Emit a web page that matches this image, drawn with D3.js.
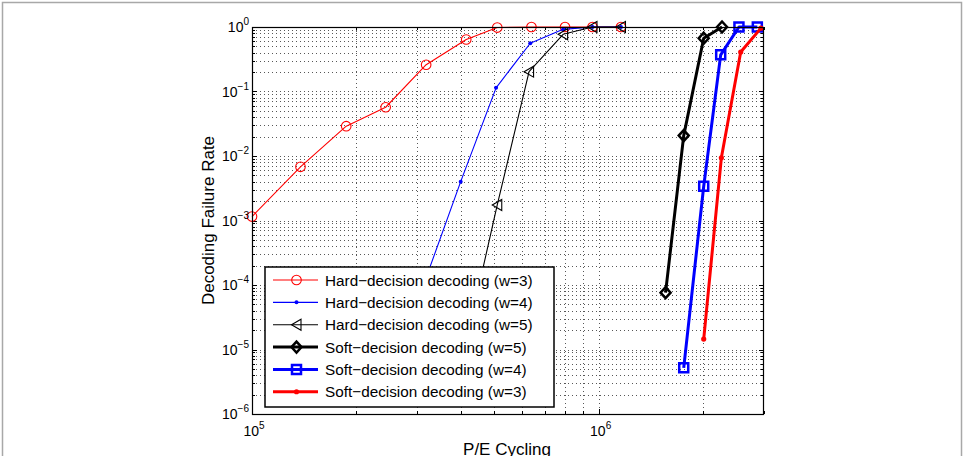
<!DOCTYPE html>
<html>
<head>
<meta charset="utf-8">
<script src="https://cdn.jsdelivr.net/npm/d3@7"></script>
<style>
body { margin: 0; background: #fff; }
svg { display: block; font-family: "Liberation Sans", Arial, Helvetica, sans-serif; }
</style>
</head>
<body>
<svg id="chart" width="964" height="456"></svg>
<script>
'use strict';

// values
var hard3X = [1.0e5, 1.38e5, 1.87e5, 2.43e5, 3.18e5, 4.15e5, 5.1e5, 6.4e5, 8.0e5, 9.6e5, 1.16e6];
var hard3Y = [1.15e-3, 6.8e-3, 0.029, 0.057, 0.26, 0.64, 0.98, 1, 1, 1, 1];
var hard4X = [3.18e5, 4.0e5, 5.06e5, 6.35e5, 7.9e5, 9.6e5, 1.16e6];
var hard4Y = [1.3e-4, 4.0e-3, 0.114, 0.56, 0.92, 1, 1];
var hard5X = [4.15e5, 5.1e5, 6.3e5, 7.9e5, 9.6e5, 1.16e6];
var hard5Y = [1.3e-5, 1.74e-3, 0.203, 0.77, 1, 1];
var soft5X = [1.56e6, 1.76e6, 2.01e6, 2.27e6];
var soft5Y = [7.6e-5, 0.0207, 0.67, 1];
var soft4X = [1.76e6, 2.01e6, 2.25e6, 2.54e6, 2.87e6];
var soft4Y = [5.2e-6, 3.4e-3, 0.37, 1, 1];
var soft3X = [2.01e6, 2.26e6, 2.57e6, 2.94e6];
var soft3Y = [1.45e-5, 9.4e-3, 0.41, 0.96];

var seriesNames = [
  'Hard\u2212decision decoding (w=3)',
  'Hard\u2212decision decoding (w=4)',
  'Hard\u2212decision decoding (w=5)',
  'Soft\u2212decision decoding (w=5)',
  'Soft\u2212decision decoding (w=4)',
  'Soft\u2212decision decoding (w=3)'
];
var xTickExps = [5, 6];
var yTickExps = [0, -1, -2, -3, -4, -5, -6];

var series = [
  { name: seriesNames[0], xs: hard3X, ys: hard3Y, color: '#ff0000', width: 1.1, marker: 'circle' },
  { name: seriesNames[1], xs: hard4X, ys: hard4Y, color: '#0000ff', width: 1.1, marker: 'dot' },
  { name: seriesNames[2], xs: hard5X, ys: hard5Y, color: '#000000', width: 1.1, marker: 'triangle' },
  { name: seriesNames[3], xs: soft5X, ys: soft5Y, color: '#000000', width: 3, marker: 'diamond' },
  { name: seriesNames[4], xs: soft4X, ys: soft4Y, color: '#0000ff', width: 3, marker: 'square' },
  { name: seriesNames[5], xs: soft3X, ys: soft3Y, color: '#ff0000', width: 3, marker: 'bigdot' }
];

var svg = d3.select('#chart');
var L = 252, R = 764, T = 27, B = 414;

var x = d3.scaleLog().domain([1e5, 3e6]).range([L, R]);
var y = d3.scaleLog().domain([1e-6, 1]).range([B, T]);

// figure border
svg.append('rect')
  .attr('x', 2.5).attr('y', 2.5).attr('width', 959).attr('height', 480)
  .attr('fill', 'none').attr('stroke', '#a8a8a8').attr('stroke-width', 1.5);

// grid (major + minor, dotted)
var grid = svg.append('g')
  .attr('stroke', '#444').attr('stroke-width', 0.9).attr('stroke-dasharray', '1,3');
grid.selectAll('line.gx')
  .data(x.ticks().filter(d => x(d) > L + 0.5 && x(d) < R - 0.5))
  .join('line')
    .attr('x1', d => Math.round(x(d)) + 0.5).attr('x2', d => Math.round(x(d)) + 0.5)
    .attr('y1', T).attr('y2', B);
grid.selectAll('line.gy')
  .data(y.ticks().filter(d => y(d) > T + 0.5 && y(d) < B - 0.5))
  .join('line')
    .attr('y1', d => Math.round(y(d)) + 0.5).attr('y2', d => Math.round(y(d)) + 0.5)
    .attr('x1', L).attr('x2', R);

// ticks inside on all four sides
function isMajor(v) {
  var e = Math.log10(v);
  return Math.abs(e - Math.round(e)) < 1e-6;
}
var ticks = svg.append('g').attr('stroke', '#000').attr('stroke-width', 1);
x.ticks().forEach(function(v) {
  var px = Math.round(x(v)) + 0.5, len = isMajor(v) ? 5 : 3;
  ticks.append('line').attr('x1', px).attr('x2', px).attr('y1', B).attr('y2', B - len);
  ticks.append('line').attr('x1', px).attr('x2', px).attr('y1', T).attr('y2', T + len);
});
y.ticks().forEach(function(v) {
  var py = Math.round(y(v)) + 0.5, len = isMajor(v) ? 5 : 3;
  ticks.append('line').attr('y1', py).attr('y2', py).attr('x1', L).attr('x2', L + len);
  ticks.append('line').attr('y1', py).attr('y2', py).attr('x1', R).attr('x2', R - len);
});

// marker shapes
function markerPath(type, cx, cy) {
  switch (type) {
    case 'triangle':
      return `M${cx - 5},${cy}L${cx + 4.5},${cy - 5.5}L${cx + 4.5},${cy + 5.5}Z`;
    case 'diamond':
      return `M${cx},${cy - 5.5}L${cx + 5},${cy}L${cx},${cy + 5.5}L${cx - 5},${cy}Z`;
    case 'square':
      return `M${cx - 4.5},${cy - 4.5}h9v9h-9Z`;
  }
  return '';
}
function drawMarker(g, s, cx, cy) {
  if (s.marker == 'circle') {
    g.append('circle').attr('cx', cx).attr('cy', cy).attr('r', 4.8)
      .attr('fill', 'none').attr('stroke', s.color).attr('stroke-width', 1.1);
  } else if (s.marker == 'dot' || s.marker == 'bigdot') {
    g.append('circle').attr('cx', cx).attr('cy', cy).attr('r', s.marker == 'dot' ? 2 : 2.6)
      .attr('fill', s.color).attr('stroke', 'none');
  } else {
    g.append('path').attr('d', markerPath(s.marker, cx, cy))
      .attr('fill', 'none').attr('stroke', s.color)
      .attr('stroke-width', s.marker == 'triangle' ? 1.1 : 2.5)
      .attr('stroke-linejoin', 'miter');
  }
}

// data lines and markers
var line = d3.line().x(d => x(d[0])).y(d => y(d[1]));
var plot = svg.append('g');
series.forEach(function(s) {
  var pts = s.xs.map((v, i) => [v, s.ys[i]]);
  plot.append('path').attr('d', line(pts))
    .attr('fill', 'none').attr('stroke', s.color).attr('stroke-width', s.width)
    .attr('stroke-linejoin', 'round');
  var gm = plot.append('g');
  pts.forEach(p => drawMarker(gm, s, x(p[0]), y(p[1])));
});

// axes box
svg.append('rect')
  .attr('x', L + 0.5).attr('y', T + 0.5).attr('width', R - L - 1).attr('height', B - T)
  .attr('fill', 'none').attr('stroke', '#000').attr('stroke-width', 1.2);

// tick labels
var tl = svg.append('g').attr('fill', '#000');
yTickExps.forEach(function(e) {
  var t = tl.append('text').attr('x', 249).attr('y', y(Math.pow(10, e)) + 5)
    .attr('text-anchor', 'end').style('font-size', '14px');
  t.append('tspan').text('10');
  t.append('tspan').attr('dy', -7).style('font-size', '10px').text(e < 0 ? '\u2212' + (-e) : String(e));
});
xTickExps.forEach(function(e) {
  var t = tl.append('text').attr('x', x(Math.pow(10, e)) + 2).attr('y', 436)
    .attr('text-anchor', 'middle').style('font-size', '14px');
  t.append('tspan').text('10');
  t.append('tspan').attr('dy', -7).style('font-size', '10px').text(String(e));
});

// axis titles
svg.append('text')
  .attr('transform', `translate(214,${(T + B) / 2}) rotate(-90)`)
  .attr('text-anchor', 'middle').style('font-size', '17px')
  .text('Decoding Failure Rate');
svg.append('text')
  .attr('x', (L + R) / 2 - 1).attr('y', 455)
  .attr('text-anchor', 'middle').style('font-size', '17px')
  .text('P/E Cycling');

// legend
var lg = svg.append('g');
lg.append('rect')
  .attr('x', 265).attr('y', 267).attr('width', 289).attr('height', 140)
  .attr('fill', '#fff').attr('stroke', '#000').attr('stroke-width', 1.5);
series.forEach(function(s, i) {
  var ly = 280 + i * 22.35;
  lg.append('line').attr('x1', 273).attr('x2', 318).attr('y1', ly).attr('y2', ly)
    .attr('stroke', s.color).attr('stroke-width', s.width);
  drawMarker(lg, s, 296.5, ly);
  lg.append('text').attr('x', 325).attr('y', ly + 5.5)
    .style('font-size', '15.3px').attr('fill', '#000').text(s.name);
});
</script>
</body>
</html>
